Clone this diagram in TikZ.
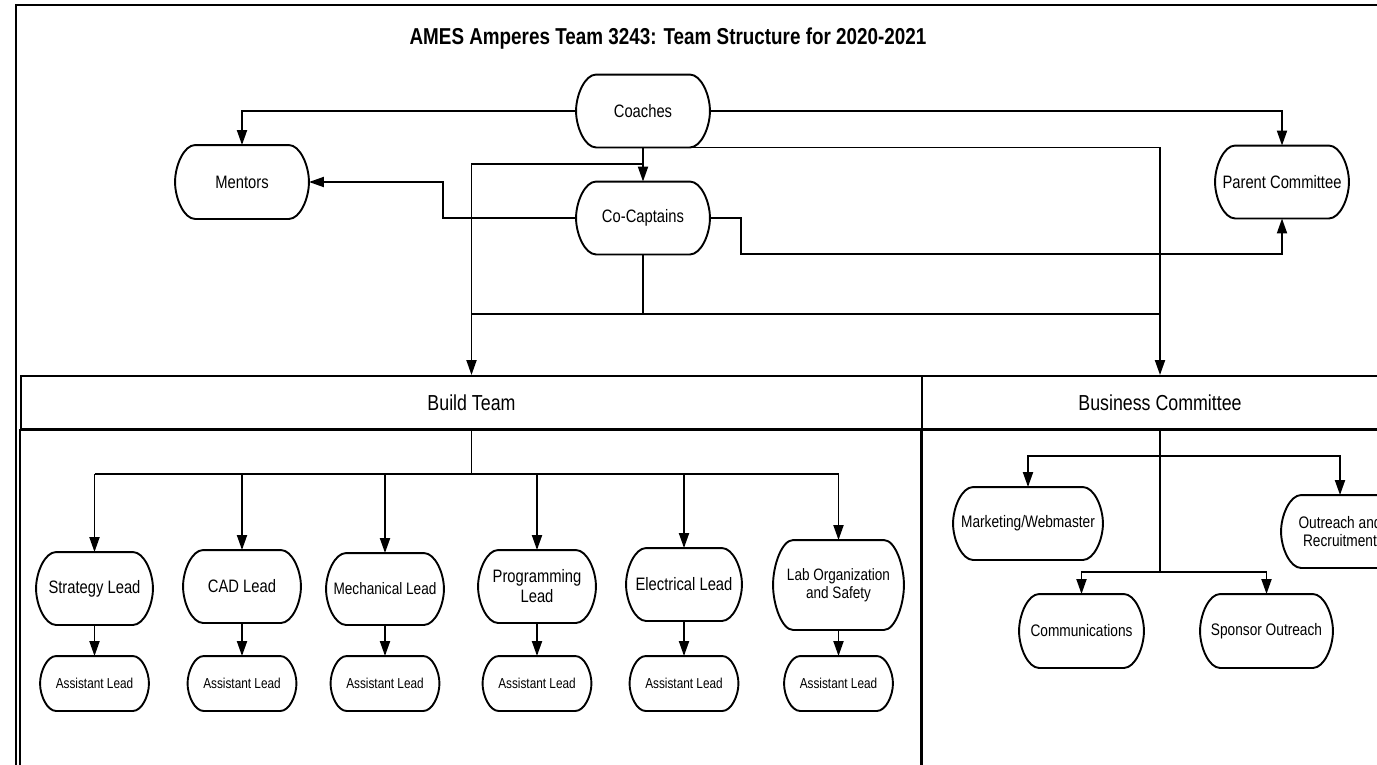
\documentclass[tikz,border=0pt]{standalone}
\usepackage{fontspec}
\setmainfont{Liberation Sans}[FakeStretch=0.82]
\usetikzlibrary{arrows.meta,calc}
\tikzset{
  box/.style={inner sep=0pt,align=center,font=\fontsize{18}{20}\selectfont},
  asst/.style={box,minimum width=107pt,minimum height=53pt,
    font=\fontsize{14.4}{16}\selectfont},
  lane/.style={draw,inner sep=0pt,minimum height=53pt,
    font=\fontsize{21.7}{24}\selectfont},
}
% outline with elliptic ends round a node
\newcommand\stageline[2][20pt]{%
  \draw let \p1=(#2.north west), \p2=(#2.south east), \n1={(\y1-\y2)/2} in
    ({\x1+#1},\y1) -- ({\x2-#1},\y1)
    .. controls ({\x2-0.4477*#1},\y1) and (\x2,{\y1-0.5523*\n1}) .. (\x2,{\y1-\n1})
    .. controls (\x2,{\y2+0.5523*\n1}) and ({\x2-0.4477*#1},\y2) .. ({\x2-#1},\y2)
    -- ({\x1+#1},\y2)
    .. controls ({\x1+0.4477*#1},\y2) and (\x1,{\y2+0.5523*\n1}) .. (\x1,{\y2+\n1})
    .. controls (\x1,{\y1-0.5523*\n1}) and ({\x1+0.4477*#1},\y1) .. ({\x1+#1},\y1) -- cycle;}
\begin{document}
\begin{tikzpicture}[>={Triangle[length=15pt,width=10pt]},x=1pt,y=-1pt,line width=1.9pt]
  \useasboundingbox (0,0) rectangle (1377,764);
  \clip (0,0) rectangle (1377,764);
  % frame and swim lanes
  \draw (16,5) rectangle (1420,800);
  \node[lane,minimum width=901pt] (build) at (471.5,402.5) {Build Team};
  \node[lane,minimum width=476pt] (business) at (1160,402.5) {Business Committee};
  \draw (build.south west) rectangle (922,800);
  \draw (business.south west) rectangle (1398,800);
  \node[anchor=base,font=\fontsize{23}{26}\selectfont\bfseries] (title) at (668,44)
    {AMES Amperes Team 3243: Team Structure for 2020-2021};
  % top of the structure
  \node[box,minimum width=132pt,minimum height=71pt] (coaches) at (643,111) {Coaches};
  \node[box,minimum width=132pt,minimum height=71pt] (cocapt) at (643,218) {Co-Captains};
  \node[box,minimum width=132pt,minimum height=72pt] (mentors) at (242,182) {Mentors};
  \node[box,minimum width=132pt,minimum height=71pt] (parent) at (1282,182) {Parent Committee};
  \coordinate (jbuild) at (471.5,164);
  \coordinate (mbend) at (443,218);
  \coordinate (plow) at (741,254);
  \coordinate (busy) at (0,314);
  \draw[->] (coaches.west) -| (mentors.north);
  \draw[->] (coaches.east) -| (parent.north);
  \draw[->] (coaches.south) -- (cocapt.north);
  \draw[->] (coaches.south) |- (jbuild) -- (build.north);
  \draw[->] (coaches.south) -| (business.north);
  \draw[->] (cocapt.west) -- (mbend) |- (mentors.east);
  \draw[->] (cocapt.east) -| (plow) -| (parent.south);
  \draw (cocapt.south) -- (cocapt.south |- busy);
  \draw (build.north |- busy) -- (business.north |- busy);
  % build team
  \node[box,minimum width=115pt,minimum height=71pt] (strat) at (94.5,588.5) {Strategy Lead};
  \node[box,minimum width=116pt,minimum height=71pt] (cad) at (242,586.5) {CAD Lead};
  \node[box,minimum width=116pt,minimum height=70pt,font=\fontsize{16.6}{19}\selectfont] (mech) at (385,589) {Mechanical Lead};
  \node[box,minimum width=116pt,minimum height=71pt] (prog) at (537,586.5) {Programming\\Lead};
  \node[box,minimum width=114pt,minimum height=71pt] (elec) at (684,584.5) {Electrical Lead};
  \node[box,minimum width=129pt,minimum height=88pt,font=\fontsize{16.5}{18.5}\selectfont] (lab) at (838.5,585) {Lab Organization\\and Safety};
  \coordinate (splity) at (0,474);
  \draw (build.south) -- (build.south |- splity);
  \draw (strat.north |- splity) -- (lab.north |- splity);
  \foreach \lead in {strat,cad,mech,prog,elec,lab}{
    \node[asst] (\lead asst) at (\lead.center |- 0,683.5) {Assistant Lead};
    \stageline{\lead}
    \stageline[16pt]{\lead asst}
    \draw[->] (\lead.north |- splity) -- (\lead.north);
    \draw[->] (\lead.south) -- (\lead asst.north);
  }
  % business committee
  \node[box,minimum width=148pt,minimum height=71pt,font=\fontsize{16.7}{18.7}\selectfont] (market) at (1028,523.5) {Marketing/Webmaster};
  \node[box,minimum width=116pt,minimum height=71pt,font=\fontsize{16.7}{18.7}\selectfont] (outreach) at (1340,531.5) {Outreach and\\Recruitment};
  \node[box,minimum width=123pt,minimum height=72pt,font=\fontsize{16.7}{18.7}\selectfont] (comm) at (1081.5,631) {Communications};
  \node[box,minimum width=131pt,minimum height=72pt,font=\fontsize{16.7}{18.7}\selectfont] (sponsor) at (1266.5,631) {Sponsor Outreach};
  \foreach \unit in {coaches,cocapt,mentors,parent,market,outreach,comm,sponsor}
    \stageline{\unit};
  \coordinate (uppery) at (0,456);
  \coordinate (lowery) at (0,572);
  \draw (business.south) -- (business.south |- lowery);
  \draw[->] (business.south |- uppery) -| (market.north);
  \draw[->] (business.south |- uppery) -| (outreach.north);
  \draw[->] (business.south |- lowery) -| (comm.north);
  \draw[->] (business.south |- lowery) -| (sponsor.north);
\end{tikzpicture}
\end{document}
